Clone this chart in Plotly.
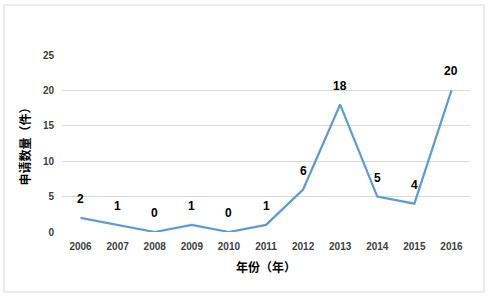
import plotly.graph_objects as go

years = ["2006", "2007", "2008", "2009", "2010", "2011", "2012", "2013", "2014", "2015", "2016"]
counts = [2, 1, 0, 1, 0, 1, 6, 18, 5, 4, 20]
y_ticks = [0, 5, 10, 15, 20, 25]

font_cjk = "Noto Sans CJK SC, Liberation Sans, sans-serif"
idx = list(range(len(years)))

fig = go.Figure()
fig.add_trace(go.Scatter(
    x=idx, y=counts, mode="lines",
    line=dict(color="#5B9BD5", width=2.2),
    hoverinfo="skip", showlegend=False,
))

annotations = []
for i, v in zip(idx, counts):
    annotations.append(dict(
        x=i, y=v, xref="x", yref="y", text=f"<b>{v}</b>", showarrow=False,
        yshift=19, font=dict(family="Liberation Sans, sans-serif", size=12, color="#000000"),
    ))

fig.update_layout(
    width=489, height=297,
    margin=dict(l=62, r=19, t=55, b=65),
    paper_bgcolor="white", plot_bgcolor="white",
    annotations=annotations,
    xaxis=dict(
        range=[-0.5, len(years) - 0.5], tickvals=idx, ticktext=years,
        showgrid=False, zeroline=False, showline=False,
        ticks="", ticklabelstandoff=7,
        tickfont=dict(family="Liberation Sans, sans-serif", size=10, color="#404040", weight="bold"),
        title=dict(text="<b>年份（年）</b>", font=dict(family=font_cjk, size=12, color="#000000"), standoff=12),
    ),
    yaxis=dict(
        range=[0, 25], tickvals=y_ticks, showgrid=True, gridcolor="#D9D9D9", gridwidth=1,
        zeroline=False, showline=False, ticks="", ticklabelstandoff=7,
        tickfont=dict(family="Liberation Sans, sans-serif", size=10, color="#404040", weight="bold"),
        title=dict(text="<b>申请数量（件）</b>", font=dict(family=font_cjk, size=12, color="#000000"), standoff=9),
    ),
    shapes=[dict(
        type="rect", xref="paper", yref="paper",
        x0=(4 - 62) / 408, x1=(484 - 62) / 408,
        y0=(232 - 292) / 177, y1=(232 - 5) / 177,
        line=dict(color="#D9D9D9", width=1), fillcolor="rgba(0,0,0,0)", layer="below",
    )],
)

fig.write_html("out.html")
